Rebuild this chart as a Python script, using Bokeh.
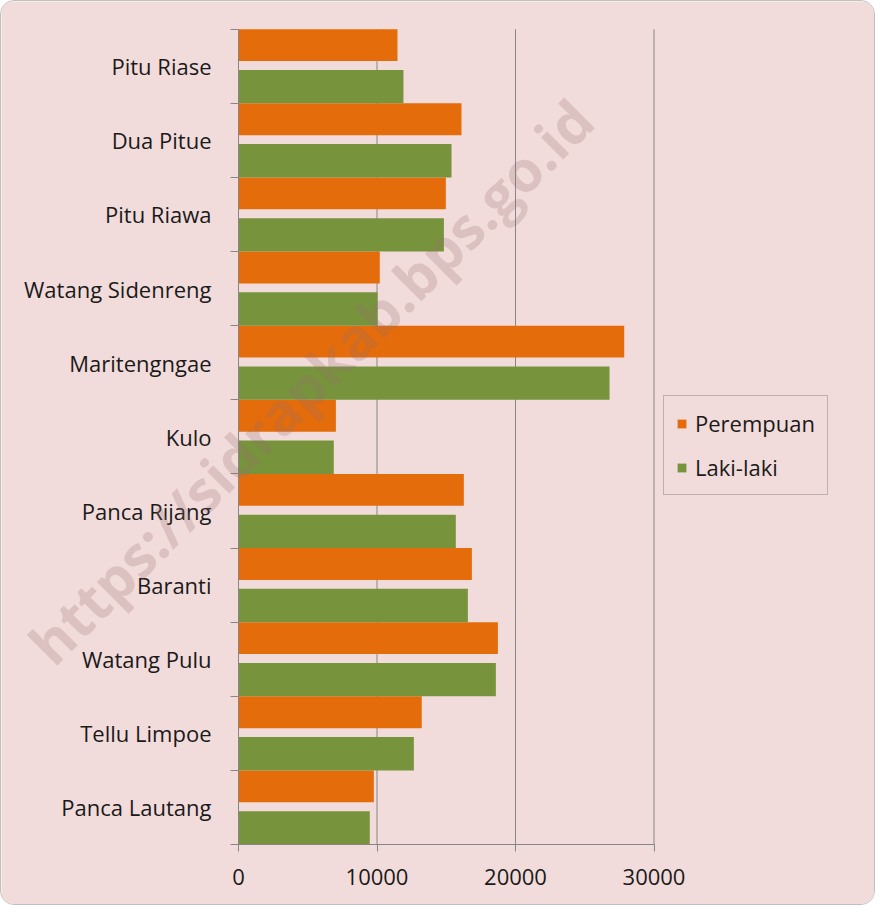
from bokeh.plotting import figure
from bokeh.models import Range1d, FixedTicker, Legend, LegendItem, Label
from bokeh.embed import file_html
from bokeh.resources import INLINE
import math

# ---- data (top to bottom as shown) ----
categories = ["Pitu Riase", "Dua Pitue", "Pitu Riawa", "Watang Sidenreng", "Maritengngae",
              "Kulo", "Panca Rijang", "Baranti", "Watang Pulu", "Tellu Limpoe", "Panca Lautang"]
perempuan = [11480, 16100, 14970, 10200, 27850, 7030, 16270, 16850, 18730, 13230, 9770]
laki_laki = [11910, 15380, 14830, 10040, 26790, 6880, 15690, 16560, 18580, 12660, 9480]
x_ticks = [0, 10000, 20000, 30000]
series_names = ["Perempuan", "Laki-laki"]

ORANGE = "#E46C0A"
GREEN = "#77933C"
BG = "#F2DCDB"
GRID = "#868686"
FONT = "Open Sans"
FS = "22px"

n = len(categories)
centers = [n - 0.5 - i for i in range(n)]
boundaries = list(range(n + 1))

W, H = 875, 905
px_x = 0.01385      # pixels per value unit
px_y = 74.12        # pixels per category
left_px, top_px, bottom_px = 237, 27.7, 843
x_range = Range1d(-left_px / px_x, (W - left_px) / px_x)
y_range = Range1d(-(H - bottom_px) / px_y, n + top_px / px_y)

p = figure(width=W, height=H, output_backend="svg", toolbar_location=None,
           x_range=x_range, y_range=y_range, min_border=0)
p.styles = {"border": "1px solid #BFBFBF", "border-radius": "14px", "overflow": "hidden"}
p.background_fill_color = BG
p.border_fill_color = BG
p.outline_line_color = None
p.grid.visible = False

# gridlines limited to the plot area
p.segment(x0=x_ticks[1:], x1=x_ticks[1:], y0=[0] * 3, y1=[n] * 3, line_color=GRID, line_width=1)

r_p = p.hbar(y=[c + 0.285 for c in centers], right=perempuan, left=0, height=0.43,
             fill_color=ORANGE, line_color=None)
r_l = p.hbar(y=[c - 0.275 for c in centers], right=laki_laki, left=0, height=0.45,
             fill_color=GREEN, line_color=None)

# x axis
p.xaxis.fixed_location = 0
p.xaxis.ticker = FixedTicker(ticks=x_ticks)
p.xaxis.bounds = (0, 30000)
p.xaxis.axis_line_color = GRID
p.xaxis.major_tick_line_color = GRID
p.xaxis.major_tick_out = 7
p.xaxis.major_tick_in = 0
p.xaxis.minor_tick_line_color = None
p.xaxis.major_label_standoff = 17
p.xaxis.major_label_text_font = FONT
p.xaxis.major_label_text_font_size = FS
p.xaxis.major_label_text_color = "#1a1a1a"

# y axis: labels at centers, ticks at boundaries
p.yaxis.fixed_location = 0
p.yaxis.bounds = (0, n)
p.yaxis.ticker = FixedTicker(ticks=centers, minor_ticks=boundaries)
p.yaxis.major_label_overrides = {c: categories[i] for i, c in enumerate(centers)}
p.yaxis.axis_line_color = GRID
p.yaxis.major_tick_line_color = None
p.yaxis.major_tick_out = 0
p.yaxis.major_tick_in = 0
p.yaxis.minor_tick_line_color = GRID
p.yaxis.minor_tick_out = 8
p.yaxis.minor_tick_in = 0
p.yaxis.major_label_standoff = 19
p.yaxis.major_label_text_font = FONT
p.yaxis.major_label_text_font_size = FS
p.yaxis.major_label_text_color = "#1a1a1a"

# watermark
wm = Label(x=5200, y=6.25, text="https://sidrapkab.bps.go.id",
           angle=math.radians(45), text_align="center", text_baseline="middle",
           text_font=FONT, text_font_style="bold", text_font_size="57px",
           text_color="#966E6E", text_alpha=0.25)
p.add_layout(wm)

legend = Legend(items=[LegendItem(label=series_names[0], renderers=[r_p]),
                       LegendItem(label=series_names[1], renderers=[r_l])],
                location=(662, 411), orientation="vertical")
legend.background_fill_color = BG
legend.background_fill_alpha = 1
legend.border_line_color = GRID
legend.border_line_width = 1
legend.glyph_width = 11
legend.glyph_height = 11
legend.label_height = 24
legend.padding = 12
legend.spacing = 14
legend.label_standoff = 8
legend.margin = 0
legend.label_text_font = FONT
legend.label_text_font_size = FS
legend.label_text_color = "#1a1a1a"
p.add_layout(legend)

open("out.html", "w").write(file_html(p, INLINE))
